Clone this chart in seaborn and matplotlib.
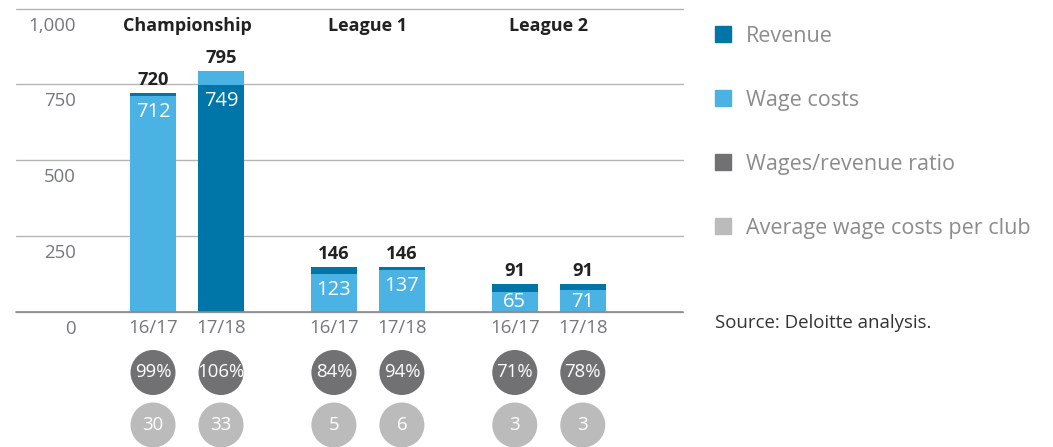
import numpy as np
import pandas as pd
import seaborn as sns
import matplotlib.pyplot as plt
from matplotlib.patches import Patch
from matplotlib.transforms import offset_copy

# values (GBP m)
leagues = ["Championship", "League 1", "League 2"]
seasons = ["16/17", "17/18"]
revenue = [720, 749, 146, 146, 91, 91]
wage_costs = [712, 795, 123, 137, 65, 71]
wage_ratio = [99, 106, 84, 94, 71, 78]
avg_wages_per_club = [30, 33, 5, 6, 3, 3]
y_ticks = [0, 250, 500, 750, 1000]

DARK_BLUE = "#0076A8"
LIGHT_BLUE = "#4BB3E4"
DARK_GREY = "#717174"
LIGHT_GREY = "#BBBBBB"
TICK_GREY = "#75787B"
LEGEND_GREY = "#8C8C8C"

sns.set_theme(style="white")
plt.rcParams["font.family"] = ["Open Sans", "DejaVu Sans"]

W, H = 1053, 447
fig = plt.figure(figsize=(W / 100, H / 100), dpi=100)


def px_box(left, top, right, bottom):
    return [left / W, 1 - bottom / H, (right - left) / W, (bottom - top) / H]


ax = fig.add_axes(px_box(16, 8.5, 683, 311.7))
ax2 = fig.add_axes(px_box(16, 311.7, 683, H))

# bar positions: two seasons per league, wider gap between leagues
group_gap = 2.66
df = pd.DataFrame({
    "league": np.repeat(leagues, len(seasons)),
    "season": seasons * len(leagues),
    "revenue": revenue,
    "wages": wage_costs,
    "ratio": wage_ratio,
    "avg": avg_wages_per_club,
})
df["x"] = np.repeat(np.arange(len(leagues)), len(seasons)) * group_gap + np.tile(np.arange(len(seasons)), len(leagues))

# taller series goes behind, shorter one in front
rev_higher = df["revenue"] >= df["wages"]
df["back"] = df[["revenue", "wages"]].max(axis=1)
df["front"] = df[["revenue", "wages"]].min(axis=1)
df["back_series"] = np.where(rev_higher, "Revenue", "Wage costs")
df["front_series"] = np.where(rev_higher, "Wage costs", "Revenue")

palette = {"Revenue": DARK_BLUE, "Wage costs": LIGHT_BLUE}
for layer in ["back", "front"]:
    sns.barplot(data=df, x="x", y=layer, hue=layer + "_series", palette=palette,
                native_scale=True, dodge=False, width=0.672, saturation=1,
                errorbar=None, legend=False, linewidth=0, ax=ax)

ax.set_xlim(-2.015, 7.794)
ax.set_ylim(0, 1000)
ax.set_axisbelow(True)
for s in ax.spines.values():
    s.set_visible(False)
ax.set_xlabel("")
ax.set_ylabel("")
ax.set_yticks(y_ticks)
ax.set_yticklabels([])
ax.grid(axis="y", color="#B5B5B5", linewidth=1)
for gl in ax.get_ygridlines():
    gl.set_clip_on(False)
ax.axhline(0, color="#8A8A8A", linewidth=1.2, clip_on=False)
ax.set_xticks(df["x"], df["season"])
ax.tick_params(axis="x", length=0, pad=5, labelsize=13.4, labelcolor=TICK_GREY)
ax.tick_params(axis="y", length=0)

# y labels sit under their gridline
ylab_trans = offset_copy(ax.get_yaxis_transform(), fig=fig, x=0, y=-22, units="dots")
for v in y_ticks:
    ax.text(0.09, v, f"{v:,}", ha="right", va="baseline", fontsize=13.4,
            color=TICK_GREY, transform=ylab_trans)

# league headers
head_trans = offset_copy(ax.transData, fig=fig, x=0, y=-22.5, units="dots")
for name in leagues:
    cx = df.loc[df["league"] == name, "x"].mean()
    ax.text(cx, 1000, name, ha="center", va="baseline", fontsize=13,
            fontweight="bold", color="#222222", transform=head_trans)

# value labels
top_trans = offset_copy(ax.transData, fig=fig, x=0, y=8, units="dots")
px_per_unit = (311.7 - 8.5) / 1000
for _, r in df.iterrows():
    ax.text(r["x"], r["back"], f"{r['back']}", ha="center", va="baseline",
            fontsize=13.2, fontweight="bold", color="#222222", transform=top_trans)
    inner_y = max(r["front"] - 21 / px_per_unit, 5 / px_per_unit)
    ax.text(r["x"], inner_y, f"{r['front']}", ha="center", va="baseline",
            fontsize=14.5, color="white")

# circles underneath: ratio row and average-wage row
circles = pd.concat([
    pd.DataFrame({"x": df["x"], "row": 0, "kind": "ratio", "label": [f"{v}%" for v in df["ratio"]]}),
    pd.DataFrame({"x": df["x"], "row": 1, "kind": "avg", "label": [f"{v}" for v in df["avg"]]}),
], ignore_index=True)
sns.scatterplot(data=circles, x="x", y="row", hue="kind",
                palette={"ratio": DARK_GREY, "avg": LIGHT_GREY},
                s=1050, linewidth=0, legend=False, ax=ax2)
for _, c in circles.iterrows():
    ax2.text(c["x"], c["row"], c["label"], ha="center", va="center",
             fontsize=13.4, color="white")
ax2.set_xlim(ax.get_xlim())
ax2.set_ylim(1.419, -1.158)
ax2.axis("off")

# legend on the right
handles = [
    Patch(color=DARK_BLUE, label="Revenue"),
    Patch(color=LIGHT_BLUE, label="Wage costs"),
    Patch(color=DARK_GREY, label="Wages/revenue ratio"),
    Patch(color=LIGHT_GREY, label="Average wage costs per club"),
]
fig.legend(handles=handles, loc="upper left", bbox_to_anchor=(715 / W, 1 - 25.5 / H),
           frameon=False, fontsize=15.5, handlelength=0.74, handleheight=0.74,
           handletextpad=0.7, labelspacing=2.0, borderpad=0, borderaxespad=0,
           labelcolor=LEGEND_GREY)

fig.text(715 / W, 1 - 328 / H, "Source: Deloitte analysis.", va="baseline",
         fontsize=13.4, color="#333333")

fig.savefig("out.png", dpi=100)
